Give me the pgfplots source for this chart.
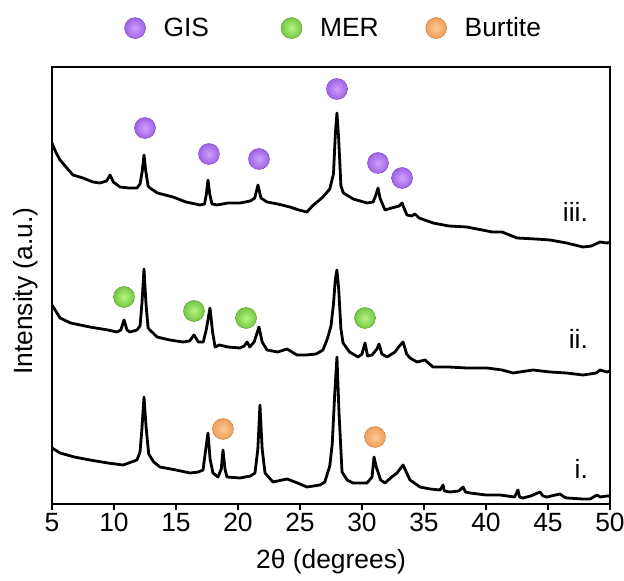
\documentclass[border=0pt]{standalone}
\usepackage{fontspec}
\setmainfont{Liberation Sans}
\usepackage{pgfplots}
\pgfplotsset{compat=1.18}
\definecolor{gisC}{RGB}{152,86,228}
\definecolor{gisL}{RGB}{205,160,250}
\definecolor{gisD}{RGB}{120,60,190}
\definecolor{merC}{RGB}{105,190,55}
\definecolor{merL}{RGB}{180,245,130}
\definecolor{merD}{RGB}{80,150,40}
\definecolor{burC}{RGB}{240,150,75}
\definecolor{burL}{RGB}{250,200,150}
\definecolor{burD}{RGB}{200,120,60}
\pgfdeclareradialshading{gisshade}{\pgfpointorigin}{color(0bp)=(gisL); color(30bp)=(gisC); color(50bp)=(gisC)}
\pgfdeclareradialshading{mershade}{\pgfpointorigin}{color(0bp)=(merL); color(30bp)=(merC); color(50bp)=(merC)}
\pgfdeclareradialshading{burshade}{\pgfpointorigin}{color(0bp)=(burL); color(30bp)=(burC); color(50bp)=(burC)}
\pgfdeclareplotmark{gisball}{\pgfpathcircle{\pgfpointorigin}{\pgfplotmarksize}\pgfshadepath{gisshade}{0}\pgfusepathqstroke}
\pgfdeclareplotmark{merball}{\pgfpathcircle{\pgfpointorigin}{\pgfplotmarksize}\pgfshadepath{mershade}{0}\pgfusepathqstroke}
\pgfdeclareplotmark{burball}{\pgfpathcircle{\pgfpointorigin}{\pgfplotmarksize}\pgfshadepath{burshade}{0}\pgfusepathqstroke}
\newcommand{\bigf}{\fontsize{26.5}{30}\selectfont}
\begin{document}
\begin{tikzpicture}
\useasboundingbox (-52bp,-77bp) rectangle (572bp,504bp);
\begin{axis}[
 at={(0,0)}, anchor=south west,
 scale only axis, width=558bp, height=437bp,
 xmin=5, xmax=50, ymin=0, ymax=437,
 xtick={5,10,...,50}, ytick=\empty,
 xtick pos=bottom, tick align=outside, major tick length=6bp,
 axis line style={line width=1.8bp},
 every tick/.style={black, line width=1.5bp},
 tick label style={font=\bigf},
 /pgf/number format/assume math mode=true,
 xlabel={2θ (degrees)}, ylabel={Intensity (a.u.)},
 label style={font=\bigf},
 xlabel style={at={(axis description cs:0.5,-0.1327)},anchor=center},
 ylabel style={at={(axis description cs:-0.0466,0.487)},anchor=center},
 legend columns=3,
 legend image code/.code={\draw[#1] plot coordinates {(0bp,0bp)};},
 legend style={at={(axis description cs:0.505,1.089)}, anchor=center, draw=none, fill=none, font=\bigf,
   /tikz/every odd column/.append style={column sep=16bp},
   /tikz/column 2/.append style={column sep=70bp},
   /tikz/column 4/.append style={column sep=45bp}},
 trace/.style={black, line width=2.8bp, line join=round},
]
% legend/marker series
\addplot[only marks, mark=gisball, mark size=10.5bp, mark options={draw=gisD, line width=0.4bp}] coordinates {
(12.5,376) (17.66,350) (21.69,345) (27.98,415) (31.29,341) (33.23,326)};
\addlegendentry{GIS}
\addplot[only marks, mark=merball, mark size=10.5bp, mark options={draw=merD, line width=0.4bp}] coordinates {
(10.81,207) (16.45,193) (20.65,186) (30.24,186)};
\addlegendentry{MER}
\addplot[only marks, mark=burball, mark size=10.5bp, mark options={draw=burD, line width=0.4bp}] coordinates {
(18.79,75) (31.05,67)};
\addlegendentry{Burtite}
% trace iii
\addplot[trace] coordinates {
(5.0,361) (5.3,352) (5.65,344) (6.2,336) (6.69,329) (7.5,326) (8.3,322) (8.87,321) (9.4,323) (9.68,329)
(9.95,322) (10.48,317) (11.2,316) (11.85,316) (12.1,320) (12.28,333) (12.42,349) (12.56,333) (12.75,318)
(12.9,316) (13.5,311) (14.76,307) (15.8,302) (16.94,299) (17.3,300) (17.45,310) (17.58,324) (17.72,310)
(17.9,300) (18.3,299) (19.2,301) (20.16,301) (21.0,303) (21.35,306) (21.61,319) (21.85,306) (22.34,302)
(23.2,300) (24.19,297) (24.9,294) (25.56,292) (26.0,298) (26.85,307) (27.4,315) (27.7,330) (27.85,370)
(27.98,391) (28.12,365) (28.3,318) (28.5,311) (29.3,305) (30.4,301) (30.9,302) (31.15,310) (31.29,316)
(31.45,306) (31.85,294) (32.4,296) (33.0,298) (33.23,301) (33.45,294) (33.63,289) (34.0,288) (34.27,290)
(34.6,286) (35.73,281) (37.0,278) (38.47,277) (40.5,272) (41.3,272) (42.5,266) (44.0,265) (45.16,264)
(46.5,261) (47.82,257) (48.5,258) (49.19,262) (49.76,261) (50,262)};
% trace ii
\addplot[trace] coordinates {
(5.0,199) (5.65,186) (6.5,181) (8.06,177) (9.5,174) (10.24,172) (10.55,174) (10.81,184) (11.05,174)
(11.29,172) (11.85,174) (12.1,178) (12.25,200) (12.42,235) (12.58,200) (12.75,176) (12.9,174) (13.47,167)
(14.5,164) (15.56,162) (16.1,163) (16.45,169) (16.8,162) (17.2,162) (17.45,175) (17.74,196) (17.95,172)
(18.15,157) (18.5,159) (19.2,157) (20.16,156) (20.5,158) (20.73,162) (20.95,157) (21.3,162) (21.69,177)
(21.95,162) (22.34,154) (23.2,152) (23.95,155) (24.76,149) (25.5,149) (26.3,150) (26.85,154) (27.2,165)
(27.5,178) (27.7,200) (27.85,225) (27.98,234) (28.12,215) (28.3,175) (28.47,161) (29.0,152) (29.68,147)
(30.0,150) (30.24,161) (30.45,148) (30.81,149) (31.2,155) (31.37,160) (31.6,150) (32.02,147) (32.66,152)
(32.95,157) (33.31,162) (33.6,150) (33.87,146) (34.44,142) (35.08,144) (35.73,137) (37.0,137) (38.47,136)
(40.08,136) (41.3,134) (42.18,131) (43.79,134) (45.16,132) (46.5,131) (47.82,129) (48.9,131) (49.19,134)
(49.76,132) (50,133)};
% trace i
\addplot[trace] coordinates {
(5.0,56) (5.65,51) (6.8,47) (8.06,44) (9.5,41) (10.73,39) (11.85,44) (12.1,52) (12.25,75) (12.42,107)
(12.6,75) (12.8,50) (13.2,42) (13.71,37) (15.0,34) (16.13,31) (16.8,32) (17.18,34) (17.4,55) (17.58,71)
(17.75,45) (17.98,31) (18.39,27) (18.65,35) (18.79,54) (18.95,35) (19.11,27) (20.16,26) (21.0,28)
(21.37,31) (21.6,55) (21.77,99) (21.95,55) (22.18,31) (22.82,22) (23.95,25) (24.8,21) (25.56,17)
(26.61,19) (27.0,22) (27.4,38) (27.6,60) (27.8,110) (27.98,147) (28.15,90) (28.39,32) (28.8,24)
(29.27,21) (30.40,21) (30.81,27) (30.97,47) (31.15,37) (31.29,32) (31.5,24) (31.85,21) (32.4,27)
(32.82,31) (33.31,39) (33.87,24) (34.68,17) (35.5,15) (36.29,14) (36.45,17) (36.53,19) (36.65,13)
(37.10,12) (37.8,13) (38.15,17) (38.35,12) (38.71,11) (40.0,9) (41.13,9) (42.3,7) (42.5,12) (42.58,14)
(42.7,7) (42.98,6) (43.6,8) (44.35,12) (44.6,8) (44.92,7) (45.6,9) (45.97,10) (46.3,7) (46.53,6)
(47.82,5) (48.39,5) (48.95,9) (49.2,7) (49.76,8) (50,8)};
\node[anchor=east, font=\bigf] at (axis cs:48.5,292) {iii.};
\node[anchor=east, font=\bigf] at (axis cs:48.5,165) {ii.};
\node[anchor=east, font=\bigf] at (axis cs:48.5,35) {i.};
\end{axis}
\end{tikzpicture}
\end{document}
